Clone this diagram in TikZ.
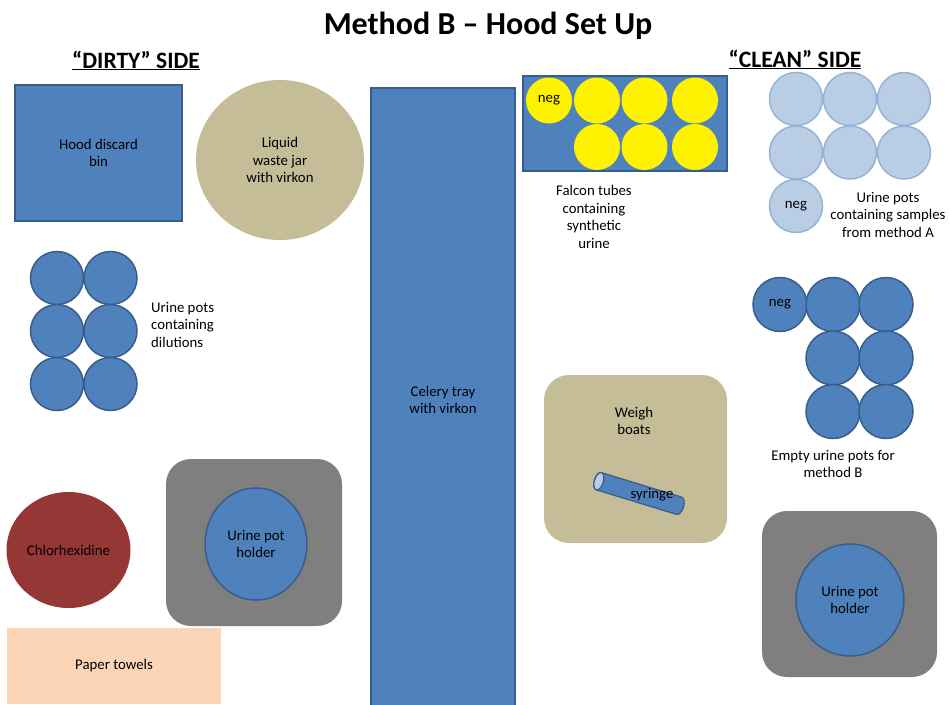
\documentclass[tikz,border=0pt]{standalone}
\usepackage{fontspec}
\setmainfont{Carlito}
\usepackage{tikz}
\usetikzlibrary{shapes.geometric}
\definecolor{potblue}{HTML}{4F81BD}
\definecolor{potedge}{HTML}{385D8A}
\definecolor{khaki}{HTML}{C4BD97}
\definecolor{holdergray}{HTML}{7F7F7F}
\definecolor{brickred}{HTML}{953735}
\definecolor{peach}{HTML}{FBD5B5}
\definecolor{paleblue}{HTML}{B9CDE5}
\definecolor{paleedge}{HTML}{95B3D7}

\begin{document}
\begin{tikzpicture}[x=1pt,y=-1pt]
\tikzstyle{texte}=[align=center,inner sep=0pt,font=\fontsize{14.8}{17.5}\selectfont]
\tikzset{bloc/.style={rectangle,draw=potedge,line width=1.5pt,fill=potblue,inner sep=0pt,texte},
pot/.style={circle,draw=#1,fill=#1!60!white,line width=1.5pt,minimum size=53pt,inner sep=0pt,texte},
pot/.default={potedge},
tube/.style={circle,fill=yellow,minimum size=46pt,inner sep=0pt,texte},
plateau/.style={rectangle,rounded corners=25pt,fill=#1,inner sep=0pt},
plateau/.default={holdergray},
support/.style={ellipse,draw=potedge,fill=potblue,line width=1.5pt,inner sep=0pt,texte}}
\useasboundingbox (0,0) rectangle (950,704);

\node[anchor=base,font=\fontsize{32}{38}\selectfont\bfseries] (titre) at (488,34) {Method B – Hood Set Up};
\node[anchor=base,font=\fontsize{23.5}{28}\selectfont\bfseries] (sale) at (136,68) {\underline{“DIRTY” SIDE}};
\node[anchor=base,font=\fontsize{23.5}{28}\selectfont\bfseries] (propre) at (795,67) {\underline{“CLEAN” SIDE}};

\node[bloc,minimum width=167pt,minimum height=136pt] (poubelle) at (98.5,153) {Hood discard\\bin};
\node[ellipse,fill=khaki,minimum width=168pt,minimum height=160pt,texte] (bocal) at (280,160) {Liquid\\waste jar\\with virkon};
\node[bloc,minimum width=144pt,minimum height=624pt] (bac) at (443,400) {Celery tray\\with virkon};

\node[bloc,minimum width=204pt,minimum height=95pt] (rack) at (625,123.5) {};
\node[tube] (F1) at (549,100.5) {neg};
\node[tube] (F2) at (597,100.5) {};
\node[tube] (F3) at (644.5,100.5) {};
\node[tube] (F4) at (695,100.5) {};
\node[tube] (F5) at (597,147) {};
\node[tube] (F6) at (644.5,147) {};
\node[tube] (F7) at (695,147) {};
\node[texte] (rackl) at (594,217) {Falcon tubes\\containing\\synthetic\\urine};

\node[pot,draw=paleedge,fill=paleblue] (A1) at (796,99) {};
\node[pot,draw=paleedge,fill=paleblue] (A2) at (850,99) {};
\node[pot,draw=paleedge,fill=paleblue] (A3) at (904,99) {};
\node[pot,draw=paleedge,fill=paleblue] (A4) at (796,152.5) {};
\node[pot,draw=paleedge,fill=paleblue] (A5) at (850,152.5) {};
\node[pot,draw=paleedge,fill=paleblue] (A6) at (904,152.5) {};
\node[pot,draw=paleedge,fill=paleblue] (A7) at (796,206) {neg};
\node[texte] (Al) at (888,214.5) {Urine pots\\containing samples\\from method A};

\node[pot,fill=potblue] (D1) at (57,278) {};
\node[pot,fill=potblue] (D2) at (110.5,278) {};
\node[pot,fill=potblue] (D3) at (57,331) {};
\node[pot,fill=potblue] (D4) at (110.5,331) {};
\node[pot,fill=potblue] (D5) at (57,384) {};
\node[pot,fill=potblue] (D6) at (110.5,384) {};
\node[texte,align=left,anchor=west] (Dl) at (151,324.5) {Urine pots\\containing\\dilutions};

\node[pot,fill=potblue,minimum size=54pt] (B1) at (780,304.5) {neg};
\node[pot,fill=potblue,minimum size=54pt] (B2) at (833,304.5) {};
\node[pot,fill=potblue,minimum size=54pt] (B3) at (886,304.5) {};
\node[pot,fill=potblue,minimum size=54pt] (B4) at (833,358) {};
\node[pot,fill=potblue,minimum size=54pt] (B5) at (886,358) {};
\node[pot,fill=potblue,minimum size=54pt] (B6) at (833,411.5) {};
\node[pot,fill=potblue,minimum size=54pt] (B7) at (886,411.5) {};
\node[texte] (Bl) at (833,464) {Empty urine pots for\\method B};

\node[plateau=khaki,minimum width=183pt,minimum height=168pt] (nacelles) at (635.5,459) {};
\node[texte] (nacellesl) at (634,421) {Weigh\\boats};
\begin{scope}[shift={(639,493.5)},rotate=-17,draw=potedge,line width=1.2pt]
\draw[fill=potblue] (-42,-9) -- (42,-9) arc[start angle=90,end angle=-90,x radius=4.5pt,y radius=9pt]
  -- (-42,9) arc[start angle=-90,end angle=-270,x radius=4.5pt,y radius=9pt] -- cycle;
\draw[fill=paleblue] (-42,0) ellipse[x radius=4.5pt,y radius=9pt];
\end{scope}
\node[texte] (seringuel) at (652,495) {syringe};

\node[ellipse,fill=brickred,minimum width=124pt,minimum height=116pt,texte] (chlor) at (68.5,550) {Chlorhexidine};
\node[plateau,minimum width=176pt,minimum height=167pt] (P1) at (254,542.5) {};
\node[support,minimum width=102pt,minimum height=112pt] (S1) at (256,544) {Urine pot\\holder};
\node[rectangle,fill=peach,minimum width=214pt,minimum height=76pt,texte] (papier) at (114,666) {Paper towels};

\node[plateau,minimum width=175pt,minimum height=166pt] (P2) at (849.5,594) {};
\node[support,minimum width=108pt,minimum height=112pt] (S2) at (850,600) {Urine pot\\holder};

\end{tikzpicture}
\end{document}
